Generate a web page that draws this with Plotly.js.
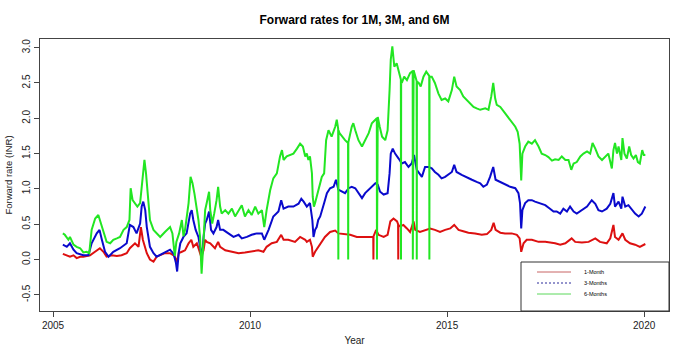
<!DOCTYPE html>
<html>
<head>
<meta charset="utf-8">
<script src="https://cdn.plot.ly/plotly-3.0.1.min.js"></script>
<style>html,body{margin:0;padding:0;background:#fff;}#chart{width:690px;height:355px;}</style>
</head>
<body>
<div id="chart"></div>
<script>
// ---- Data (decimal years, forward rate in INR) ----
var seriesNames = ["1-Month", "3-Months", "6-Months"];

var t1M = [2005.25,2005.35,2005.43,2005.52,2005.60,2005.69,2005.77,2005.94,2006.07,2006.19,2006.28,2006.36,2006.49,2006.62,2006.74,2006.87,2006.95,2007.08,2007.17,2007.23,2007.28,2007.38,2007.46,2007.55,2007.63,2007.72,2007.84,2007.97,2008.08,2008.15,2008.19,2008.27,2008.35,2008.44,2008.51,2008.56,2008.65,2008.71,2008.76,2008.82,2008.86,2008.90,2008.99,2009.11,2009.19,2009.24,2009.37,2009.54,2009.71,2009.87,2010.04,2010.21,2010.34,2010.42,2010.55,2010.68,2010.79,2010.85,2010.97,2011.14,2011.27,2011.40,2011.44,2011.52,2011.57,2011.59,2011.65,2011.73,2011.82,2011.90,2012.03,2012.16,2012.24,2012.37,2012.54,2012.71,2012.88,2013.05,2013.11,2013.126,2013.130,2013.134,2013.20,2013.26,2013.39,2013.49,2013.56,2013.64,2013.73,2013.756,2013.760,2013.764,2013.81,2013.89,2013.98,2014.06,2014.15,2014.19,2014.31,2014.44,2014.57,2014.69,2014.82,2014.95,2015.08,2015.18,2015.29,2015.41,2015.54,2015.71,2015.88,2016.01,2016.12,2016.18,2016.23,2016.35,2016.47,2016.64,2016.77,2016.84,2016.88,2016.94,2017.02,2017.15,2017.32,2017.49,2017.66,2017.74,2017.87,2018.00,2018.16,2018.25,2018.42,2018.59,2018.76,2018.88,2019.05,2019.14,2019.22,2019.26,2019.35,2019.45,2019.52,2019.64,2019.77,2019.89,2020.03];
var rate1M = [0.08,0.06,0.04,0.06,0.02,0.04,0.04,0.06,0.11,0.16,0.11,0.04,0.06,0.05,0.06,0.09,0.16,0.23,0.18,0.46,0.28,0.09,0.00,-0.03,0.04,0.06,0.09,0.09,0.05,-0.03,0.09,0.11,0.13,0.23,0.28,0.18,0.23,0.13,0.04,0.13,0.28,0.25,0.23,0.16,0.25,0.18,0.13,0.11,0.09,0.10,0.11,0.13,0.11,0.18,0.23,0.25,0.35,0.28,0.28,0.25,0.32,0.28,0.25,0.28,0.18,0.04,0.11,0.18,0.25,0.32,0.39,0.41,0.37,0.36,0.35,0.32,0.32,0.33,0.32,0.32,0.00,0.33,0.42,0.35,0.32,0.35,0.54,0.58,0.54,0.50,0.00,0.49,0.47,0.49,0.44,0.39,0.54,0.42,0.39,0.42,0.44,0.42,0.39,0.42,0.44,0.49,0.42,0.40,0.38,0.37,0.35,0.36,0.42,0.52,0.42,0.38,0.37,0.37,0.35,0.30,0.11,0.23,0.28,0.28,0.25,0.25,0.24,0.23,0.21,0.23,0.30,0.25,0.24,0.25,0.30,0.25,0.23,0.30,0.49,0.32,0.28,0.37,0.28,0.23,0.21,0.18,0.22];

var t3M = [2005.25,2005.35,2005.43,2005.52,2005.60,2005.77,2005.90,2005.98,2006.11,2006.18,2006.24,2006.32,2006.41,2006.53,2006.70,2006.87,2006.95,2007.04,2007.12,2007.21,2007.25,2007.29,2007.34,2007.38,2007.46,2007.55,2007.63,2007.80,2007.97,2008.06,2008.12,2008.15,2008.19,2008.23,2008.31,2008.39,2008.48,2008.52,2008.56,2008.62,2008.69,2008.73,2008.78,2008.82,2008.86,2008.90,2008.96,2009.01,2009.07,2009.15,2009.19,2009.24,2009.32,2009.45,2009.58,2009.71,2009.79,2009.92,2010.04,2010.17,2010.30,2010.36,2010.47,2010.59,2010.72,2010.79,2010.85,2010.97,2011.10,2011.23,2011.30,2011.36,2011.44,2011.52,2011.58,2011.61,2011.65,2011.69,2011.73,2011.78,2011.82,2011.88,2011.95,2012.03,2012.12,2012.18,2012.24,2012.33,2012.41,2012.50,2012.58,2012.67,2012.75,2012.84,2012.92,2013.01,2013.09,2013.18,2013.24,2013.30,2013.39,2013.49,2013.54,2013.57,2013.62,2013.68,2013.77,2013.85,2013.93,2014.02,2014.10,2014.16,2014.23,2014.30,2014.36,2014.44,2014.53,2014.61,2014.69,2014.78,2014.86,2014.95,2015.03,2015.12,2015.18,2015.24,2015.37,2015.50,2015.63,2015.75,2015.84,2015.92,2016.01,2016.09,2016.17,2016.23,2016.35,2016.47,2016.60,2016.73,2016.81,2016.85,2016.88,2016.91,2016.98,2017.06,2017.15,2017.23,2017.36,2017.49,2017.61,2017.70,2017.78,2017.87,2017.95,2018.04,2018.12,2018.21,2018.29,2018.42,2018.55,2018.67,2018.76,2018.84,2018.93,2019.05,2019.14,2019.22,2019.26,2019.35,2019.42,2019.45,2019.52,2019.60,2019.69,2019.77,2019.86,2019.94,2020.03];
var rate3M = [0.21,0.18,0.23,0.14,0.09,0.06,0.06,0.23,0.37,0.42,0.28,0.11,0.04,0.11,0.16,0.23,0.49,0.46,0.37,0.51,0.75,0.82,0.70,0.46,0.18,0.09,0.04,0.09,0.14,0.08,-0.05,-0.17,0.10,0.23,0.32,0.37,0.65,0.70,0.56,0.42,0.32,0.18,0.04,0.32,0.51,0.56,0.68,0.42,0.37,0.46,0.56,0.42,0.42,0.37,0.32,0.35,0.30,0.32,0.35,0.37,0.37,0.28,0.42,0.61,0.68,0.84,0.72,0.75,0.75,0.79,0.86,0.82,0.75,0.80,0.56,0.32,0.42,0.46,0.56,0.61,0.70,0.80,0.94,1.01,1.03,1.13,0.99,0.96,0.94,1.01,1.03,1.01,0.94,0.87,0.94,0.99,1.03,1.08,1.06,0.96,0.92,0.94,1.22,1.50,1.57,1.50,1.43,1.36,1.38,1.31,1.36,1.48,1.27,1.22,1.17,1.31,1.31,1.29,1.24,1.20,1.15,1.17,1.20,1.24,1.34,1.24,1.20,1.17,1.13,1.10,1.08,1.03,1.06,1.17,1.31,1.13,1.10,1.06,1.03,1.01,0.94,0.80,0.44,0.70,0.80,0.84,0.84,0.82,0.80,0.77,0.72,0.68,0.68,0.65,0.72,0.68,0.75,0.68,0.65,0.70,0.75,0.84,0.79,0.70,0.68,0.72,0.79,0.94,0.75,0.82,0.72,0.89,0.75,0.77,0.70,0.65,0.61,0.65,0.75];

var t6M = [2005.25,2005.30,2005.39,2005.43,2005.52,2005.60,2005.69,2005.77,2005.85,2005.92,2005.98,2006.07,2006.15,2006.19,2006.28,2006.36,2006.45,2006.53,2006.62,2006.70,2006.79,2006.87,2006.94,2006.97,2007.02,2007.08,2007.14,2007.21,2007.25,2007.29,2007.32,2007.36,2007.42,2007.46,2007.55,2007.63,2007.72,2007.84,2007.97,2008.03,2008.09,2008.13,2008.20,2008.27,2008.31,2008.35,2008.44,2008.49,2008.54,2008.59,2008.65,2008.69,2008.73,2008.77,2008.82,2008.86,2008.90,2008.96,2008.99,2009.04,2009.09,2009.15,2009.19,2009.24,2009.28,2009.37,2009.45,2009.54,2009.62,2009.71,2009.79,2009.87,2009.96,2010.04,2010.13,2010.21,2010.30,2010.36,2010.42,2010.51,2010.59,2010.68,2010.76,2010.81,2010.85,2010.93,2011.02,2011.10,2011.19,2011.27,2011.34,2011.40,2011.44,2011.48,2011.52,2011.57,2011.59,2011.62,2011.65,2011.69,2011.73,2011.78,2011.82,2011.88,2011.93,2011.99,2012.07,2012.16,2012.20,2012.236,2012.240,2012.244,2012.27,2012.33,2012.41,2012.486,2012.490,2012.494,2012.58,2012.62,2012.67,2012.75,2012.84,2012.92,2013.01,2013.09,2013.18,2013.216,2013.220,2013.224,2013.24,2013.29,2013.35,2013.43,2013.49,2013.54,2013.57,2013.61,2013.66,2013.72,2013.79,2013.826,2013.830,2013.834,2013.85,2013.91,2013.98,2014.06,2014.126,2014.130,2014.134,2014.15,2014.226,2014.230,2014.234,2014.28,2014.33,2014.40,2014.47,2014.546,2014.550,2014.554,2014.61,2014.69,2014.78,2014.86,2014.95,2015.03,2015.12,2015.18,2015.24,2015.33,2015.41,2015.50,2015.58,2015.67,2015.75,2015.84,2015.97,2016.05,2016.12,2016.17,2016.22,2016.26,2016.35,2016.47,2016.56,2016.64,2016.73,2016.79,2016.84,2016.88,2016.91,2016.98,2017.06,2017.15,2017.23,2017.32,2017.40,2017.49,2017.57,2017.66,2017.74,2017.83,2017.91,2018.00,2018.08,2018.15,2018.21,2018.29,2018.38,2018.46,2018.55,2018.63,2018.69,2018.76,2018.84,2018.93,2019.01,2019.09,2019.18,2019.22,2019.26,2019.31,2019.35,2019.42,2019.45,2019.50,2019.56,2019.62,2019.67,2019.73,2019.79,2019.84,2019.89,2019.95,2019.99,2020.03];
var rate6M = [0.37,0.35,0.28,0.32,0.21,0.18,0.16,0.10,0.11,0.09,0.42,0.58,0.63,0.56,0.42,0.25,0.23,0.28,0.30,0.32,0.42,0.46,0.56,1.01,0.84,0.80,0.75,0.80,1.03,1.32,1.41,1.22,0.80,0.56,0.42,0.37,0.32,0.39,0.46,0.37,0.05,0.25,0.37,0.56,0.33,0.42,0.80,1.17,1.08,0.93,0.70,0.56,0.33,-0.20,0.28,0.70,0.80,0.96,0.70,0.51,0.65,0.84,1.03,0.75,0.65,0.70,0.65,0.72,0.61,0.70,0.77,0.61,0.70,0.63,0.75,0.65,0.70,0.46,0.70,0.98,1.15,1.22,1.46,1.55,1.41,1.46,1.48,1.50,1.57,1.64,1.60,1.46,1.50,1.41,1.46,1.22,0.89,0.75,0.80,0.89,0.99,1.08,1.17,1.22,1.69,1.83,1.74,1.88,1.98,1.85,0.00,1.83,1.79,1.74,1.69,1.65,0.00,1.66,1.88,1.93,1.83,1.69,1.60,1.69,1.79,1.93,1.98,2.00,0.00,2.01,2.02,1.88,1.74,1.69,1.83,2.40,2.83,3.02,2.73,2.78,2.64,2.55,0.00,2.52,2.50,2.59,2.54,2.64,2.67,0.00,2.68,2.68,2.53,0.00,2.52,2.50,2.45,2.59,2.66,2.60,0.00,2.59,2.59,2.50,2.35,2.26,2.28,2.24,2.40,2.59,2.45,2.40,2.31,2.26,2.21,2.16,2.14,2.12,2.14,2.12,2.31,2.50,2.28,2.19,2.16,2.07,2.00,1.93,1.88,1.81,1.64,1.12,1.50,1.60,1.67,1.64,1.69,1.60,1.50,1.48,1.45,1.40,1.42,1.41,1.46,1.41,1.41,1.27,1.36,1.38,1.46,1.50,1.53,1.50,1.65,1.57,1.46,1.41,1.46,1.50,1.29,1.55,1.65,1.50,1.60,1.41,1.72,1.50,1.43,1.60,1.48,1.43,1.48,1.38,1.36,1.55,1.48,1.48];

var xTickVals = [2005, 2010, 2015, 2020];
var yTickVals = [-0.5, 0.0, 0.5, 1.0, 1.5, 2.0, 2.5, 3.0];
var yTickText = ["-0.5", "0.0", "0.5", "1.0", "1.5", "2.0", "2.5", "3.0"];

// ---- Styles ----
var colors = ["#dd1010", "#0a0acc", "#22e622"];
var narrow = "'Liberation Sans Narrow', 'Arial Narrow', 'Liberation Sans', Arial, sans-serif";
var regular = "'Liberation Sans', Arial, sans-serif";

var traces = [
  {x: t1M, y: rate1M, name: seriesNames[0], type: "scatter", mode: "lines", line: {color: colors[0], width: 2}},
  {x: t3M, y: rate3M, name: seriesNames[1], type: "scatter", mode: "lines", line: {color: colors[1], width: 2}},
  {x: t6M, y: rate6M, name: seriesNames[2], type: "scatter", mode: "lines", line: {color: colors[2], width: 2}}
];

// legend box geometry in pixels (plot area: x 40..669, y 39..311)
var PL = 40, PR = 669, PT = 39, PB = 311;
function px(x) { return (x - PL) / (PR - PL); }
function py(y) { return (PB - y) / (PB - PT); }
var legRowsY = [272, 283, 294];
var legDash = ["solid", "2px,2px", "solid"];
var legColors = ["#c86464", "#2a2a9a", "#5ad85a"];

var shapes = [{type: "rect", xref: "paper", yref: "paper", x0: px(521), x1: px(669), y0: py(311), y1: py(262),
  line: {color: "#333", width: 1}, fillcolor: "#ffffff", layer: "above"}];
var annotations = [];
for (var i = 0; i < 3; i++) {
  shapes.push({type: "line", xref: "paper", yref: "paper", x0: px(537), x1: px(571), y0: py(legRowsY[i]), y1: py(legRowsY[i]),
    line: {color: legColors[i], width: 1, dash: legDash[i]}, layer: "above"});
  annotations.push({xref: "paper", yref: "paper", x: px(582), y: py(legRowsY[i]), xanchor: "left", yanchor: "middle",
    text: seriesNames[i], showarrow: false, font: {family: narrow, size: 5.5, color: "#000"}});
}

var layout = {
  width: 690, height: 355,
  margin: {l: PL, r: 690 - PR, t: PT, b: 355 - PB, pad: 0},
  paper_bgcolor: "#fff", plot_bgcolor: "#fff",
  showlegend: false,
  title: {text: "<b>Forward rates for 1M, 3M, and 6M</b>", x: px(354.5), xref: "paper", xanchor: "center",
    y: 1 - 20 / 355, yref: "container", yanchor: "middle",
    font: {family: narrow, size: 12, color: "#000"}},
  xaxis: {range: [2004.67, 2020.63], showgrid: false, zeroline: false,
    showline: true, mirror: true, linecolor: "#444", linewidth: 1,
    ticks: "outside", ticklen: 5, tickcolor: "#444", tickwidth: 1,
    tickvals: xTickVals, ticktext: xTickVals.map(String),
    tickfont: {family: narrow, size: 10, color: "#222"},
    title: {text: "Year", font: {family: narrow, size: 10, color: "#222"}, standoff: 6}},
  yaxis: {range: [-0.729, 3.123], showgrid: false, zeroline: false,
    showline: true, mirror: true, linecolor: "#444", linewidth: 1,
    ticks: "outside", ticklen: 5, tickcolor: "#444", tickwidth: 1,
    tickvals: yTickVals, ticktext: yTickText, tickangle: -90,
    tickfont: {family: regular, size: 10, color: "#222"},
    title: {text: "Forward rate (INR)", font: {family: regular, size: 9.5, color: "#222"}, standoff: 6}},
  shapes: shapes,
  annotations: annotations
};

Plotly.newPlot("chart", traces, layout, {displayModeBar: false, staticPlot: true});
</script>
</body>
</html>
